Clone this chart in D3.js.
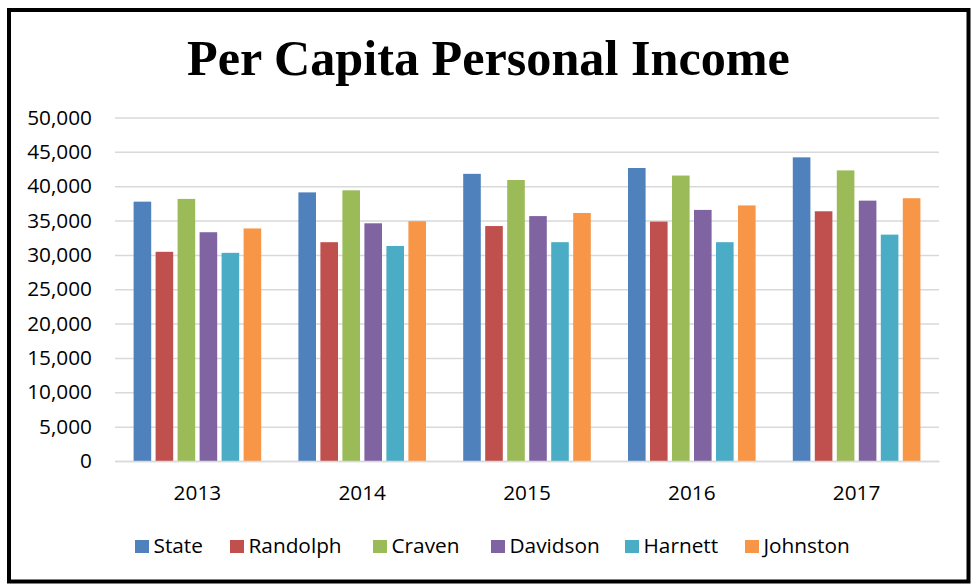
<!DOCTYPE html>
<html><head><meta charset="utf-8">
<script src="https://cdn.jsdelivr.net/npm/d3@7"></script>
<style>html,body{margin:0;padding:0;background:#fff;}svg{display:block;}</style>
</head><body>
<svg id="chart" width="971" height="584"></svg>
<script>
const years = ["2013", "2014", "2015", "2016", "2017"];
const seriesNames = ["State", "Randolph", "Craven", "Davidson", "Harnett", "Johnston"];
const stateVals    = [37750, 39100, 41800, 42650, 44200];
const randolphVals = [30450, 31850, 34200, 34850, 36350];
const cravenVals   = [38150, 39400, 40900, 41550, 42300];
const davidsonVals = [33300, 34600, 35650, 36550, 37900];
const harnettVals  = [30300, 31300, 31850, 31850, 32950];
const johnstonVals = [33850, 34900, 36100, 37200, 38250];
const yTicks = [0, 5000, 10000, 15000, 20000, 25000, 30000, 35000, 40000, 45000, 50000];
const colors = ["#4f81bd", "#c0504d", "#9bbb59", "#8064a2", "#4bacc6", "#f79646"];
const titleText = "Per Capita Personal Income";

const seriesVals = [stateVals, randolphVals, cravenVals, davidsonVals, harnettVals, johnstonVals];

(function () {
const svg = d3.select("#chart");
const font = "'Open Sans', sans-serif";

// outer border
svg.append("rect").attr("x", 9).attr("y", 10).attr("width", 959.5).attr("height", 571.5)
  .attr("fill", "#fff").attr("stroke", "#000").attr("stroke-width", 4);

const pLeft = 115, pRight = 939, pTop = 117.5, pBottom = 461;
const x0 = d3.scaleBand().domain(years).range([pLeft, pRight]).paddingInner(0.2257).paddingOuter(0.11285);
const x1 = d3.scaleBand().domain(seriesNames).range([0, x0.bandwidth()]).paddingInner(0.2).paddingOuter(0);
const y = d3.scaleLinear().domain([0, 50000]).range([pBottom, pTop]);
const color = d3.scaleOrdinal().domain(seriesNames).range(colors);

// gridlines
const yAxis = d3.axisLeft(y).tickValues(yTicks).tickSize(-(pRight - pLeft)).tickFormat(d3.format(","));
const gy = svg.append("g").attr("transform", `translate(${pLeft},0)`).call(yAxis);
gy.select(".domain").remove();
gy.selectAll(".tick line").attr("stroke", "#d9d9d9").attr("stroke-width", 1.5);
gy.selectAll(".tick text").attr("x", -23).attr("font-family", font).attr("font-size", 20.8).attr("fill", "#000");

// bars
const groups = svg.append("g").selectAll("g").data(years).join("g")
  .attr("transform", d => `translate(${x0(d)},0)`);
groups.selectAll("rect")
  .data((yr, i) => seriesNames.map((s, j) => ({ s, v: seriesVals[j][i] })))
  .join("rect")
  .attr("x", d => x1(d.s))
  .attr("y", d => y(d.v))
  .attr("width", x1.bandwidth())
  .attr("height", d => y(0) - y(d.v))
  .attr("fill", d => color(d.s));

// x axis
const xAxis = d3.axisBottom(x0).tickSize(0).tickPadding(0);
const gx = svg.append("g").attr("transform", `translate(0,${pBottom})`).call(xAxis);
gx.select(".domain").attr("stroke", "#d9d9d9").attr("stroke-width", 1.5);
gx.selectAll(".tick text").attr("dy", null).attr("y", 38.5).attr("font-family", font).attr("font-size", 20.8).attr("fill", "#000");

// title
const title = svg.append("text").attr("x", 488.5).attr("y", 75).attr("text-anchor", "middle")
  .attr("font-family", "'Liberation Serif', serif").attr("font-weight", "bold").attr("font-size", 50)
  .attr("fill", "#000").text(titleText);
const tw = title.node().getComputedTextLength();
title.attr("font-size", 50 * 603 / tw);

// legend
const legendX = [135, 230, 373, 491, 625, 745];
const lg = svg.append("g");
seriesNames.forEach((s, i) => {
  lg.append("rect").attr("x", legendX[i]).attr("y", 540).attr("width", 14).attr("height", 13).attr("fill", color(s));
  lg.append("text").attr("x", legendX[i] + 18.5).attr("y", 552.5).attr("font-family", font).attr("font-size", 20.8)
    .attr("fill", "#000").text(s);
});
})();
</script>
</body></html>
